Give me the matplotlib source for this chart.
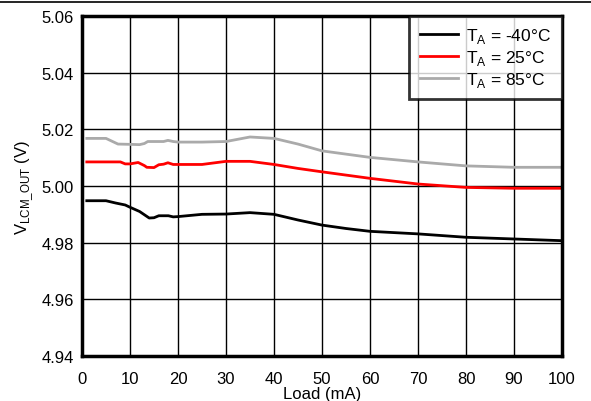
import matplotlib
matplotlib.use("Agg")
from matplotlib import pyplot as plt

plt.rcParams['font.family'] = ['Liberation Sans', 'DejaVu Sans']
plt.rcParams['mathtext.fontset'] = 'custom'
plt.rcParams['mathtext.rm'] = 'Liberation Sans'

# ===== data =====
load_cold = [1, 5, 7, 9, 10, 12, 14, 15, 16, 18, 19, 20, 25, 30, 35, 40, 45, 50, 55, 60, 70, 80, 90, 100]
v_cold = [4.9948, 4.9948, 4.9940, 4.9933, 4.9925, 4.9910, 4.9887, 4.9888, 4.9895, 4.9895, 4.9891, 4.9892,
          4.9900, 4.9901, 4.9906, 4.9900, 4.9880, 4.9862, 4.9850, 4.9840, 4.9831, 4.9819, 4.9813, 4.9807]

load_room = [1, 8, 9, 10, 11.7, 13, 13.5, 15, 16, 17, 17.9, 19, 20, 25, 30, 35, 40, 45, 50, 60, 70, 80, 90, 100]
v_room = [5.0085, 5.0085, 5.0078, 5.0078, 5.0083, 5.0072, 5.0066, 5.0065, 5.0075, 5.0077, 5.0082, 5.0076,
          5.0076, 5.0076, 5.0087, 5.0087, 5.0076, 5.0062, 5.0050, 5.0027, 5.0007, 4.9995, 4.9992, 4.9992]

load_hot = [1, 5, 6, 7.5, 10, 12, 13, 13.7, 17, 17.9, 19, 20, 25, 30, 35, 40, 45, 50, 60, 70, 80, 90, 100]
v_hot = [5.0168, 5.0168, 5.0160, 5.0148, 5.0147, 5.0146, 5.0150, 5.0157, 5.0157, 5.0161, 5.0157, 5.0155,
         5.0155, 5.0157, 5.0173, 5.0168, 5.0148, 5.0124, 5.0101, 5.0085, 5.0071, 5.0066, 5.0066]

labels = ['T$_\\mathregular{A}$ = -40\u00b0C', 'T$_\\mathregular{A}$ = 25\u00b0C', 'T$_\\mathregular{A}$ = 85\u00b0C']
colors = ['black', '#ff0000', '#aaaaaa']

fig = plt.figure(figsize=(5.91, 4.02), dpi=100)
ax = fig.add_axes([82/591, 1-357/402, 480/591, 340/402])

ax.plot(load_cold, v_cold, color=colors[0], lw=2, label=labels[0])
ax.plot(load_room, v_room, color=colors[1], lw=2, label=labels[1])
ax.plot(load_hot, v_hot, color=colors[2], lw=2, label=labels[2])

ax.set_xlim(0, 100)
ax.set_ylim(4.94, 5.06)
ax.set_xticks(range(0, 101, 10))
ax.set_yticks([4.94, 4.96, 4.98, 5.00, 5.02, 5.04, 5.06])
ax.set_yticklabels(['4.94', '4.96', '4.98', '5.00', '5.02', '5.04', '5.06'])
ax.grid(True, color='black', lw=1)
ax.set_axisbelow(True)
ax.tick_params(length=0, labelsize=12, pad=6)
ax.tick_params(axis='x', pad=11)
for s in ax.spines.values():
    s.set_linewidth(2.5)

ax.set_xlabel('Load (mA)', fontsize=12, labelpad=0)
ax.set_ylabel('V$_\\mathregular{LCM\\_OUT}$ (V)', fontsize=12, labelpad=4)

leg = ax.legend(loc='upper right', fontsize=12.5, frameon=True, fancybox=False, borderaxespad=0,
                handlelength=2.2, handletextpad=0.5, labelspacing=0.15, borderpad=0.6)
leg.get_frame().set_edgecolor('black')
leg.get_frame().set_linewidth(2)

# top rule line of the page
fig.add_artist(plt.Line2D([0, 1], [1-2.5/402, 1-2.5/402], color='black', lw=1.2))

fig.savefig('out.png', dpi=100)
